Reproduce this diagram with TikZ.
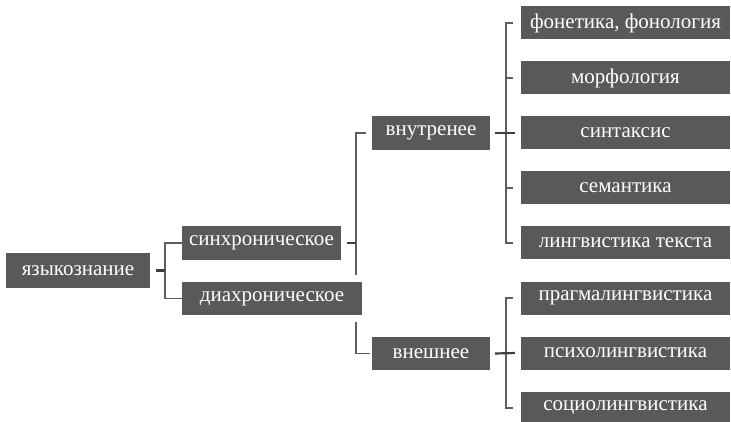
\documentclass[tikz,border=0pt]{standalone}
\usepackage{fontspec}
\setmainfont{Liberation Serif}
\newfontfamily\boxfont{Liberation Serif}
\definecolor{boxgray}{HTML}{595959}
\definecolor{linegray}{HTML}{5E5E5E}
\definecolor{stubgray}{HTML}{3F3F3F}
\begin{document}
\begin{tikzpicture}[x=1pt,y=-1pt,
  box/.style={fill=boxgray,text=white,inner sep=0pt,font=\boxfont\fontsize{21}{24}\selectfont},
  brack/.style={draw=linegray,line width=1.6pt},
  stub/.style={draw=stubgray,line width=2.2pt}]
\useasboundingbox (0,0) rectangle (731,422);
% left part
\node[box,minimum width=144,minimum height=35] (yaz) at (78,270.5) {языкознание};
\node[box,minimum width=159,minimum height=34] (sin) at (261.5,243) {синхроническое};
\node[box,minimum width=180,minimum height=33] (dia) at (272,298.5) {диахроническое};
\node[box,minimum width=118,minimum height=34] (vnu) at (431,133) {внутренее};
\node[box,minimum width=118,minimum height=33] (vne) at (431,353.5) {внешнее};
% right column
\foreach \n/\t/\y in {f/{фонетика, фонология}/23, m/морфология/78, s/синтаксис/133, se/семантика/188, l/лингвистика текста/243, p/прагмалингвистика/298, ps/психолингвистика/353, so/социолингвистика/408}
  \node[box,minimum width=209,minimum height=33] (\n) at (625.5,\y) {\t};
% coordinates
\coordinate (j1) at (165,270.5);
\coordinate (j2) at (356,243);
\coordinate (j2b) at (356,275);
\coordinate (j3) at (356,322);
\coordinate (j4) at (506,133);
\coordinate (j5) at (506,353.5);
% brackets
\draw[brack] (sin.west) -| (j1) |- (dia.west);
\draw[stub] ([xshift=6]yaz.east) -- (j1);
\draw[brack] ([xshift=-6]vnu.west) -| (j2b);
\draw[stub] ([xshift=6]sin.east) -- (j2);
\draw[brack] (j3) |- ([xshift=-2]vne.west);
\draw[brack] ([xshift=-8]f.west) -| (j4) |- ([xshift=-8]l.west);
\foreach \n in {m,s,se} \draw[brack] (j4 |- \n.west) -- ([xshift=-8]\n.west);
\draw[stub] ([xshift=5]vnu.east) -- ([xshift=-6]s.west);
\draw[brack] ([xshift=-8]p.west) -| (j5) |- ([xshift=-8]so.west);
\draw[stub] ([xshift=5]vne.east) -- ([xshift=-6]ps.west);
\end{tikzpicture}
\end{document}
